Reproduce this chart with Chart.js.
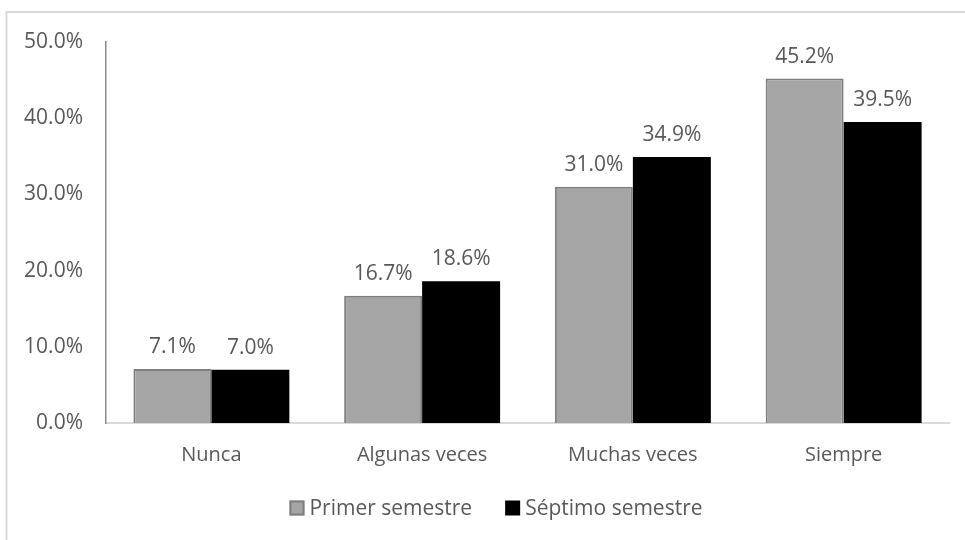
<!DOCTYPE html>
<html>
<head>
<meta charset="utf-8">
<script src="https://cdn.jsdelivr.net/npm/chart.js@4/dist/chart.umd.min.js"></script>
<style>
  html, body { margin: 0; padding: 0; background: #fff; }
  #wrap { width: 965px; height: 540px; }
</style>
</head>
<body>
<div id="wrap"><canvas id="chart" width="965" height="540"></canvas></div>
<script>
// Frequency of responses by semester (percent)
const categories = ['Nunca', 'Algunas veces', 'Muchas veces', 'Siempre'];
const primerSemestre = [7.1, 16.7, 31.0, 45.2];
const septimoSemestre = [7.0, 18.6, 34.9, 39.5];
const yTicks = [0, 10, 20, 30, 40, 50];

const textColor = '#595959';
const fontFamily = "'Open Sans', 'DejaVu Sans', sans-serif";

// Value labels above each bar
const barLabels = {
  id: 'barLabels',
  afterDatasetsDraw(chart) {
    const ctx = chart.ctx;
    ctx.save();
    ctx.fillStyle = textColor;
    ctx.font = '21px ' + fontFamily;
    ctx.textAlign = 'center';
    ctx.textBaseline = 'alphabetic';
    chart.data.datasets.forEach((ds, i) => {
      chart.getDatasetMeta(i).data.forEach((bar, j) => {
        ctx.fillText(ds.data[j].toFixed(1) + '%', bar.x, bar.y - 16);
      });
    });
    ctx.restore();
  }
};

// Legend row under the axis: small square swatch right next to its text
const swatchLegend = {
  id: 'swatchLegend',
  afterDraw(chart) {
    const ctx = chart.ctx;
    const box = 15, gap = 5, itemGap = 33, centerX = 496, y = 508;
    ctx.save();
    ctx.font = '21px ' + fontFamily;
    ctx.textBaseline = 'middle';
    const items = chart.data.datasets.map(ds => ({
      ds, w: box + gap + ctx.measureText(ds.label).width
    }));
    const total = items.reduce((s, it) => s + it.w, 0) + itemGap * (items.length - 1);
    let x = centerX - total / 2;
    items.forEach(({ ds, w }) => {
      ctx.fillStyle = ds.backgroundColor;
      ctx.fillRect(x, y - box / 2, box, box);
      if (ds.borderWidth) {
        ctx.strokeStyle = ds.borderColor;
        ctx.lineWidth = 2;
        ctx.strokeRect(x + 1, y - box / 2 + 1, box - 2, box - 2);
      }
      ctx.fillStyle = textColor;
      ctx.fillText(ds.label, x + box + gap, y + 1);
      x += w + itemGap;
    });
    ctx.restore();
  }
};

// Thin frame along the top and left edges
const frame = {
  id: 'frame',
  beforeDraw(chart) {
    const ctx = chart.ctx;
    ctx.save();
    ctx.strokeStyle = '#d9d9d9';
    ctx.lineWidth = 2;
    ctx.beginPath();
    ctx.moveTo(6.5, 600);
    ctx.lineTo(6.5, 12);
    ctx.lineTo(1000, 12);
    ctx.stroke();
    ctx.restore();
  }
};

new Chart(document.getElementById('chart'), {
  type: 'bar',
  data: {
    labels: categories,
    datasets: [{
      label: 'Primer semestre',
      data: primerSemestre,
      backgroundColor: '#a5a5a5',
      borderColor: '#7f7f7f',
      borderWidth: { top: 2, left: 2, right: 2, bottom: 0 },
      borderSkipped: false
    }, {
      label: 'Séptimo semestre',
      data: septimoSemestre,
      backgroundColor: '#000000',
      borderColor: '#000000',
      borderWidth: 0
    }]
  },
  options: {
    responsive: false,
    animation: false,
    categoryPercentage: 0.74,
    barPercentage: 1.0,
    layout: { padding: { top: 42, right: 16, bottom: 72, left: 0 } },
    plugins: {
      legend: { display: false },
      tooltip: { enabled: false }
    },
    scales: {
      x: {
        afterFit(scale) { scale.height = 45; },
        grid: { display: false, drawTicks: false },
        border: { display: true, color: '#d9d9d9', width: 2 },
        ticks: {
          color: textColor,
          font: { family: fontFamily, size: 20 },
          padding: 20
        }
      },
      y: {
        min: 0,
        max: 50,
        afterBuildTicks(scale) {
          scale.ticks = yTicks.map(v => ({ value: v }));
        },
        afterFit(scale) { scale.width = 106; },
        grid: { display: false, drawTicks: false },
        border: { display: true, color: '#8c8c8c', width: 1.5 },
        ticks: {
          color: textColor,
          font: { family: fontFamily, size: 21 },
          padding: 23,
          callback: v => v.toFixed(1) + '%'
        }
      }
    }
  },
  plugins: [frame, barLabels, swatchLegend]
});
</script>
</body>
</html>
